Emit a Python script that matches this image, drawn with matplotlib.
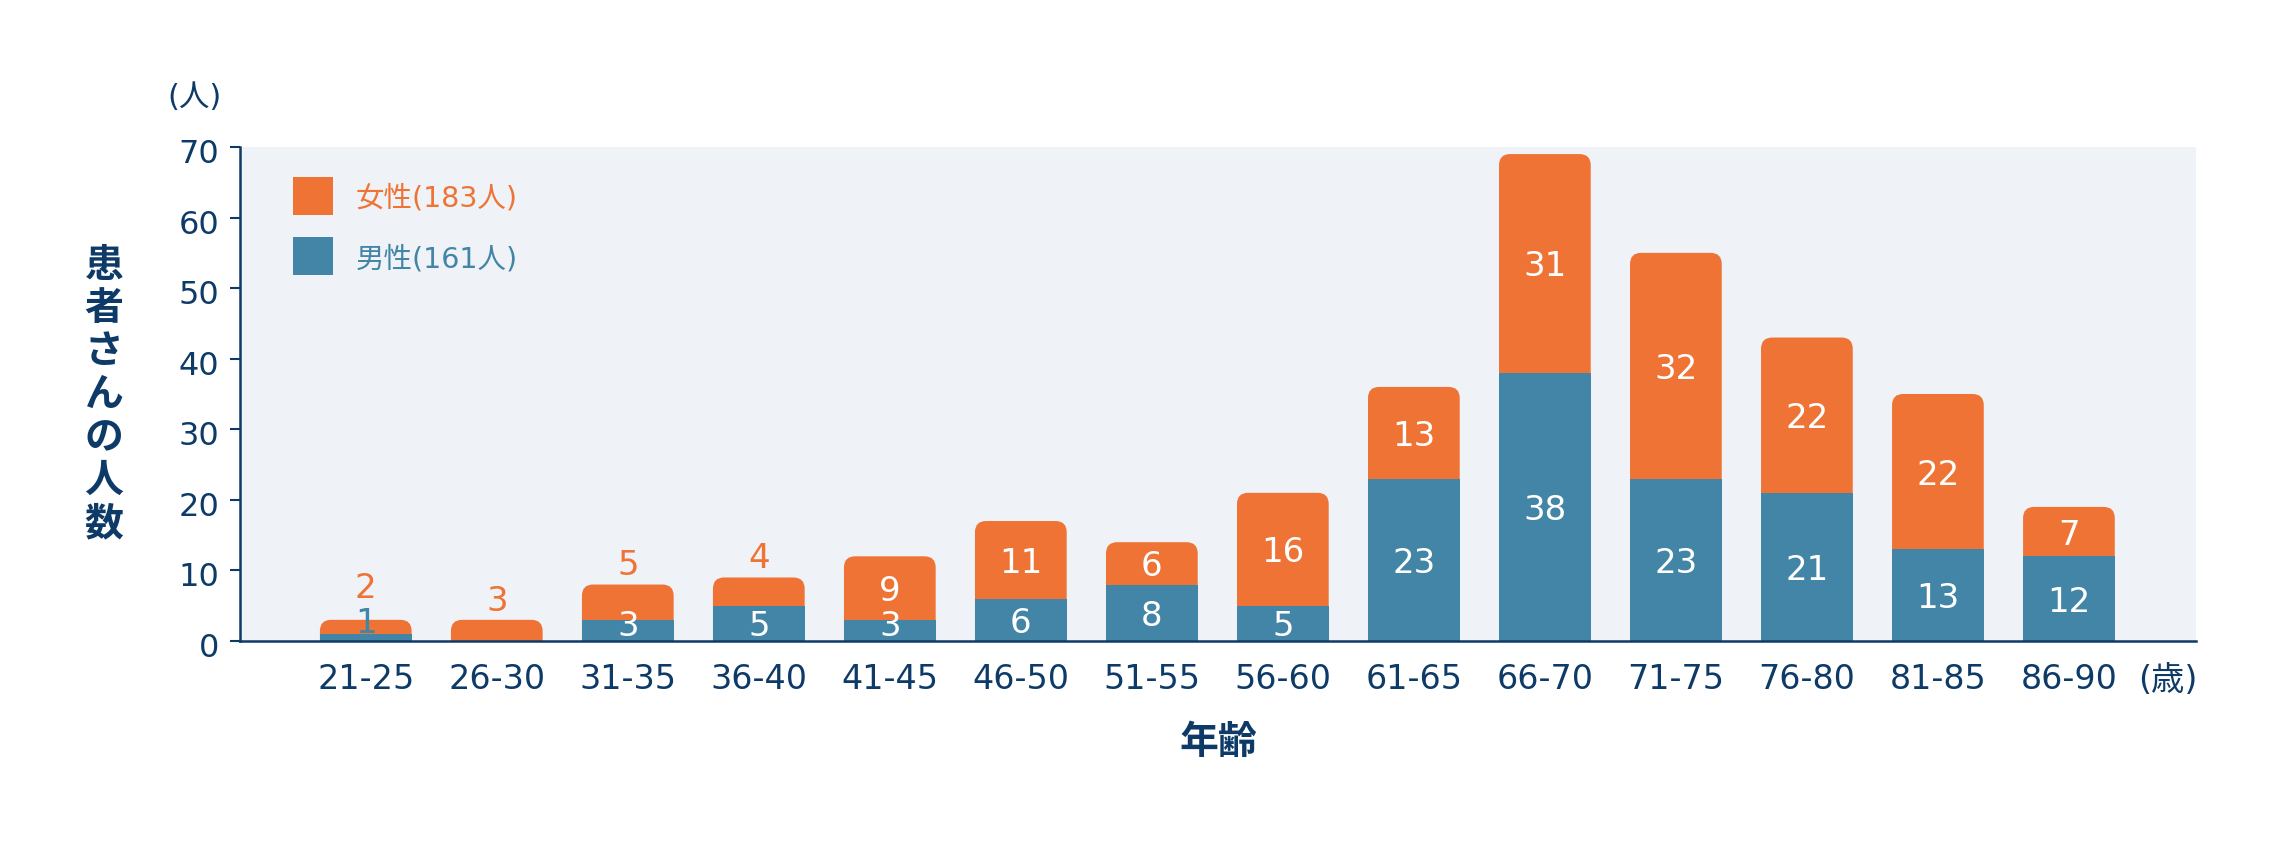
import matplotlib
matplotlib.use("Agg")
import matplotlib.pyplot as plt
from matplotlib.patches import FancyBboxPatch, Rectangle
from matplotlib.transforms import ScaledTranslation

# Latin digits in DejaVu (wide, like the reference), Japanese falls back to Noto CJK
plt.rcParams["font.family"] = ["DejaVu Sans", "Noto Sans CJK JP"]

# ============================================================
# Data
# ============================================================
age_groups = ["21-25", "26-30", "31-35", "36-40", "41-45", "46-50", "51-55",
              "56-60", "61-65", "66-70", "71-75", "76-80", "81-85", "86-90"]
male = [1, 0, 3, 5, 3, 6, 8, 5, 23, 38, 23, 21, 13, 12]
female = [2, 3, 5, 4, 9, 11, 6, 16, 13, 31, 32, 22, 22, 7]
y_ticks = [0, 10, 20, 30, 40, 50, 60, 70]

female_label = "女性(183人)"
male_label = "男性(161人)"
y_title = "患者さんの人数"
x_title = "年齢"
y_unit = "(人)"
x_unit = "(歳)"

NAVY = "#0E3A67"
ORANGE = "#EE7335"
BLUE = "#4285A6"
PANEL = "#EFF2F6"

W, H = 2280, 850

# ============================================================
# Figure / axes
# ============================================================
fig = plt.figure(figsize=(W / 100, H / 100), dpi=100)
ax = fig.add_axes([240 / W, 1 - 641 / H, (2196 - 240) / W, (641 - 147) / H])
ax.set_facecolor(PANEL)

x = list(range(len(age_groups)))
ax.set_xlim(-0.96, len(age_groups) - 0.03)
ax.set_ylim(0, 70)

# pixel aspect, so the rounded corners come out circular
p0 = ax.transData.transform((0, 0))
p1 = ax.transData.transform((1, 1))
aspect = (p1[0] - p0[0]) / (p1[1] - p0[1])

bar_w = 0.7
ax.bar(x, male, width=bar_w, color=BLUE, zorder=3)
female_bars = ax.bar(x, female, width=bar_w, bottom=male, color=ORANGE, zorder=2)

# swap the orange bars for ones with rounded top corners
for rect in female_bars:
    top = rect.get_y() + rect.get_height()
    rounded = FancyBboxPatch(
        (rect.get_x(), -3), rect.get_width(), top + 3,
        boxstyle="round,pad=0,rounding_size=0.085",
        mutation_aspect=aspect,
        facecolor=ORANGE, edgecolor="none", zorder=2,
    )
    ax.add_patch(rounded)
    rect.remove()

# value labels
LABEL_FS = 24.5
for i in x:
    m, f = male[i], female[i]
    total = m + f
    male_out = 0 < m <= 1
    if m > 1:
        ax.text(i, max(m / 2, 2.6), str(m), color="white", fontsize=LABEL_FS,
                ha="center", va="center_baseline", zorder=5)
    elif m == 1:
        ax.annotate(str(m), (i, total), xytext=(0, 0), textcoords="offset points",
                    color=BLUE, fontsize=LABEL_FS, ha="center", va="center_baseline", zorder=5)
    if f > 5:
        ax.text(i, m + f / 2, str(f), color="white", fontsize=LABEL_FS,
                ha="center", va="center_baseline", zorder=5)
    else:
        off = 16 + (9 if male_out else 0)
        ax.annotate(str(f), (i, total), xytext=(0, off), textcoords="offset points",
                    color=ORANGE, fontsize=LABEL_FS, ha="center", va="center_baseline", zorder=5)

# ============================================================
# Axes styling
# ============================================================
for side in ["top", "right"]:
    ax.spines[side].set_visible(False)
for side in ["left", "bottom"]:
    ax.spines[side].set_color(NAVY)
    ax.spines[side].set_linewidth(1.8)
    ax.spines[side].set_zorder(6)

ax.set_yticks(y_ticks)
ax.tick_params(axis="y", colors=NAVY, labelsize=23, length=7, width=1.5, pad=8)
for lab in ax.get_yticklabels():
    lab.set_transform(lab.get_transform() + ScaledTranslation(0, -4 / 100, fig.dpi_scale_trans))

ax.set_xticks(x)
ax.set_xticklabels(age_groups)
ax.tick_params(axis="x", colors=NAVY, labelsize=24, length=0, pad=16)

# legend (drawn by hand to match the square swatches)
ax.add_patch(Rectangle((0.0271, 0.862), 0.0204, 0.0769, transform=ax.transAxes,
                       facecolor=ORANGE, edgecolor="none", zorder=4))
ax.add_patch(Rectangle((0.0271, 0.741), 0.0204, 0.0769, transform=ax.transAxes,
                       facecolor=BLUE, edgecolor="none", zorder=4))
ax.text(0.0593, 0.901, female_label, transform=ax.transAxes, color=ORANGE,
        fontsize=20.5, ha="left", va="center_baseline")
ax.text(0.0593, 0.779, male_label, transform=ax.transAxes, color=BLUE,
        fontsize=20.5, ha="left", va="center_baseline")

# titles and units
fig.text(104 / W, 1 - 395 / H, "\n".join(y_title), color=NAVY, fontsize=28,
         fontweight="bold", ha="center", va="center", linespacing=1.17)
fig.text(1218 / W, 1 - 743 / H, x_title, color=NAVY, fontsize=28,
         fontweight="bold", ha="center", va="center")
fig.text(194 / W, 1 - 98 / H, y_unit, color=NAVY, fontsize=22,
         ha="center", va="center")
fig.text(2168 / W, 1 - 681 / H, x_unit, color=NAVY, fontsize=24,
         ha="center", va="center")

fig.savefig("out.png", dpi=100, facecolor="white")
